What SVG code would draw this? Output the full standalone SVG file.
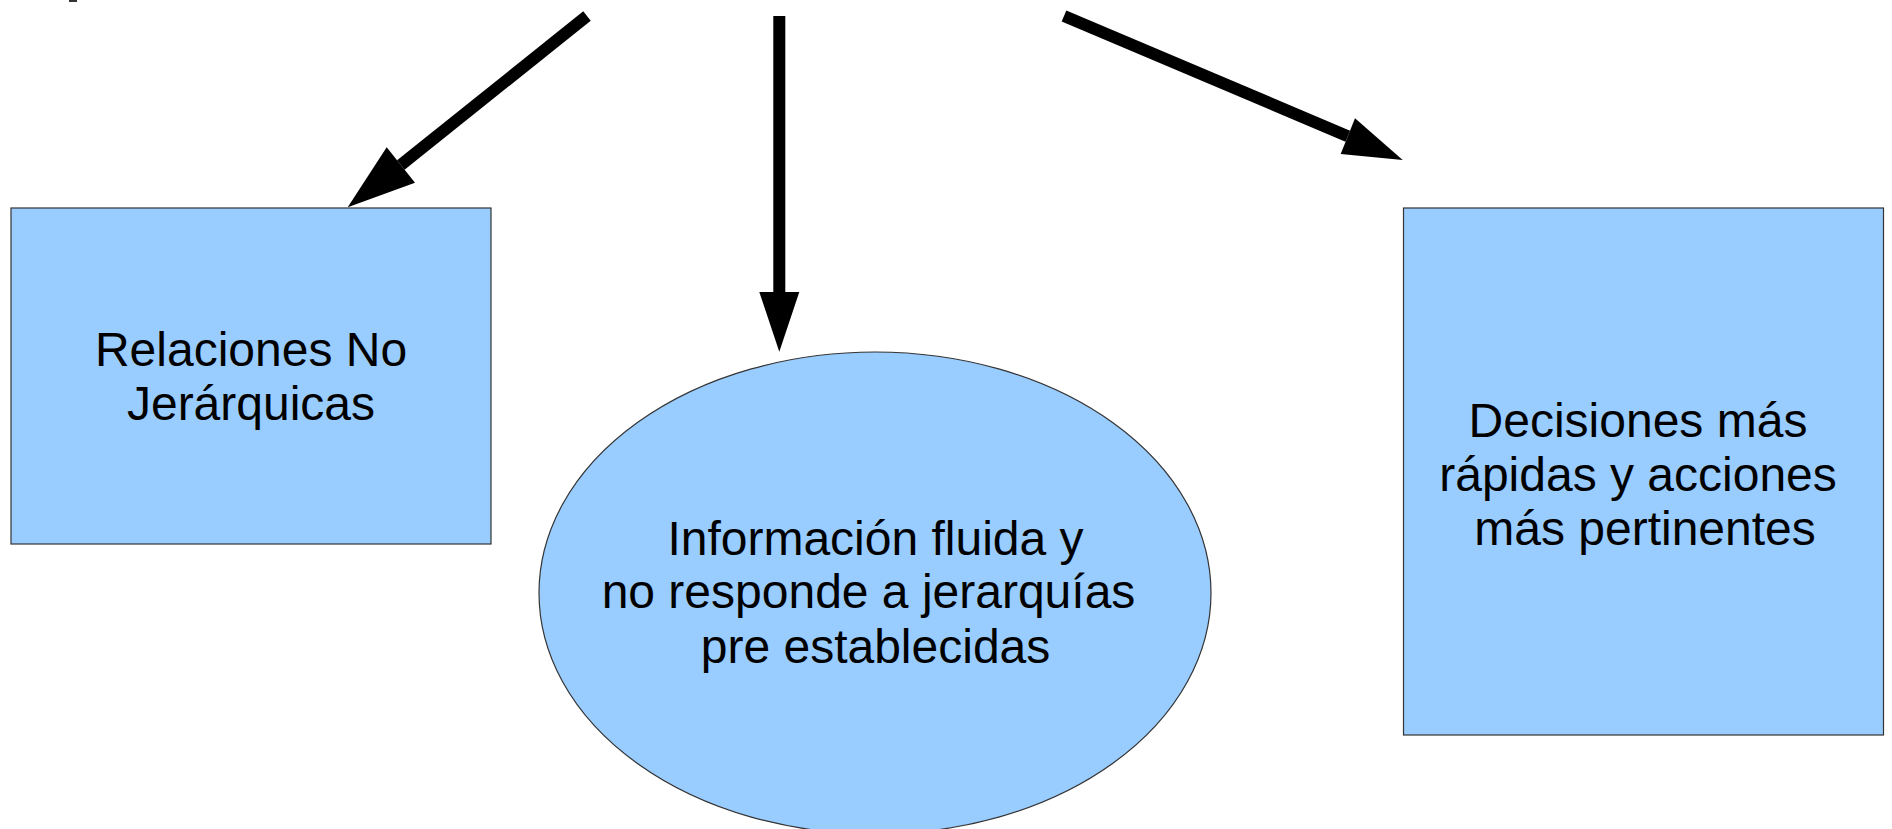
<svg xmlns="http://www.w3.org/2000/svg" width="1892" height="829" viewBox="0 0 1892 829">
<style>
.box{fill:#99ccff;stroke:#333333;stroke-width:1.2}
.lbl{font-family:"Liberation Sans",Arial,sans-serif;font-size:48px;fill:#000000;text-anchor:middle}
.ln{stroke:#000000;stroke-width:12;fill:none}
.hd{fill:#000000;stroke:none}
</style>
<rect x="69" y="0" width="8" height="2" fill="#333333"/>
<g id="connectors">
<line class="ln" x1="587" y1="16" x2="400.8" y2="165"/>
<polygon class="hd" points="347.7,207.3 386.7,147.3 415,182.7"/>
<line class="ln" x1="779.3" y1="16" x2="779.3" y2="293"/>
<polygon class="hd" points="759.3,292 799.3,292 779.3,351.7"/>
<line class="ln" x1="1064" y1="16" x2="1347.8" y2="136.2"/>
<polygon class="hd" points="1402.7,160 1355,118.3 1340.7,154"/>
</g>
<g id="node-relaciones">
<rect class="box" x="11" y="208" width="480" height="336"/>
<text class="lbl" x="251" y="366">Relaciones No</text>
<text class="lbl" x="251" y="420">Jerárquicas</text>
</g>
<g id="node-informacion">
<ellipse class="box" cx="875" cy="593" rx="336" ry="241"/>
<text class="lbl" x="875.5" y="555">Información fluida y</text>
<text class="lbl" x="868.5" y="608">no responde a jerarquías</text>
<text class="lbl" x="875.5" y="663">pre establecidas</text>
</g>
<g id="node-decisiones">
<rect class="box" x="1403.5" y="208" width="480" height="527"/>
<text class="lbl" x="1638" y="437">Decisiones más</text>
<text class="lbl" x="1638" y="491">rápidas y acciones</text>
<text class="lbl" x="1645" y="545">más pertinentes</text>
</g>
</svg>
